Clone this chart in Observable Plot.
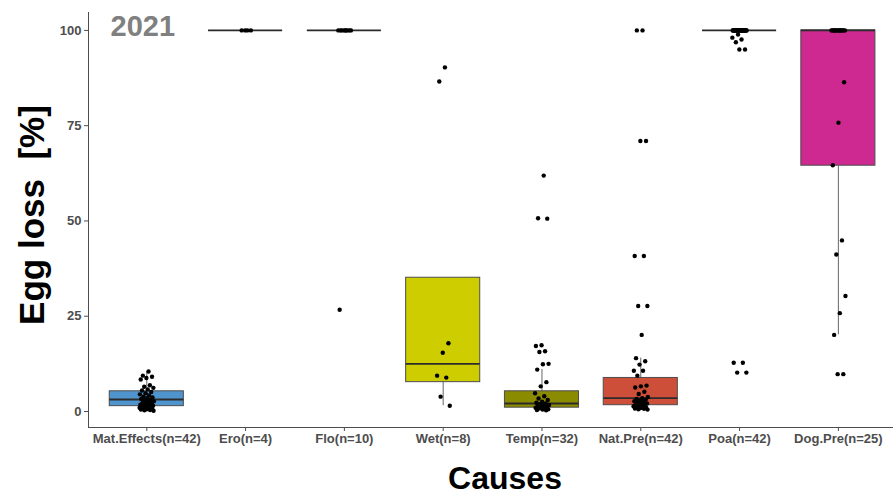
<!DOCTYPE html>
<html>
<head>
<meta charset="utf-8">
<script src="https://cdn.jsdelivr.net/npm/d3@7"></script>
<script src="https://cdn.jsdelivr.net/npm/@observablehq/plot@0.6"></script>
<style>
  body { margin: 0; background: #fff; }
  #chart svg { display: block; }
</style>
</head>
<body>
<div id="chart"></div>
<script>
// Causes of egg loss, 2021 season
const causes = ["Mat.Effects", "Ero", "Flo", "Wet", "Temp", "Nat.Pre", "Poa", "Dog.Pre"];
const counts = [42, 4, 10, 8, 32, 42, 42, 25];

// Egg loss per nest [%], by cause
const matEffects = [10.5, 9.4, 9.1, 8.8, 8.4, 6.9, 6.5, 6.2, 5.8, 5.5, 5.1, 4.8, 4.5, 4.2, 3.9, 3.7, 3.5, 3.3, 3.1, 2.9, 2.7,
  2.5, 2.3, 2.1, 2.0, 1.8, 1.7, 1.6, 1.5, 1.4, 1.3, 1.2, 1.1, 1.0, 0.9, 0.8, 0.7, 0.6, 0.5, 0.4, 0.3, 0.2];
const ero = [100, 100, 100, 100];
const flo = [100, 100, 100, 100, 100, 100, 100, 100, 100, 26.7];
const wet = [90.3, 86.6, 17.9, 15.4, 9.4, 8.9, 3.9, 1.5];
const temp = [61.9, 50.7, 50.6, 17.4, 17.2, 15.8, 15.6, 12.5, 12.4, 11.0, 7.7, 6.6, 4.8, 4.0, 3.4, 3.0,
  2.6, 2.3, 2.1, 1.9, 1.7, 1.5, 1.4, 1.2, 1.1, 1.0, 0.9, 0.8, 0.6, 0.5, 0.4, 0.3];
const natPre = [100, 100, 71.0, 71.0, 40.8, 40.8, 27.7, 27.7, 20.1, 14.0, 13.2, 12.3, 10.7, 10.7, 9.4, 6.8, 6.6, 6.3, 5.2, 4.6, 3.8,
  3.5, 3.3, 3.1, 2.9, 2.7, 2.5, 2.3, 2.1, 2.0, 1.8, 1.7, 1.5, 1.4, 1.2, 1.1, 1.0, 0.9, 0.8, 0.7, 0.6, 0.5];
const poa = [100, 100, 100, 100, 100, 100, 100, 100, 100, 100, 100, 100, 100, 100, 100, 100, 100, 100, 100, 100, 100,
  100, 100, 100, 100, 100, 100, 100, 100, 100, 100, 100, 98.9, 98.1, 97.6, 96.9, 95.0, 95.0, 12.8, 12.8, 10.2, 10.2];
const dogPre = [100, 100, 100, 100, 100, 100, 100, 100, 100, 100, 100, 100, 100, 100, 100,
  86.4, 75.8, 64.6, 44.9, 41.2, 30.3, 25.8, 20.1, 9.8, 9.8];

// Box-plot summaries per cause
const whiskerLow  = [0.2, 100, 100, 1.5, 0.3, 0.5, 100, 20.1];
const boxQ1       = [1.4, 100, 100, 7.7, 1.0, 1.65, 100, 64.5];
const boxMedian   = [3.15, 100, 100, 12.5, 2.1, 3.5, 100, 100];
const boxQ3       = [5.3, 100, 100, 35.1, 5.3, 8.8, 100, 100];
const whiskerHigh = [10.5, 100, 100, 35.1, 11.0, 14.0, 100, 100];

const yearLabel = "2021";

// Fill colours for each cause
const palette = ["#4F94CD", "#9E9E9E", "#9E9E9E", "#CDCD00", "#8B8B00", "#CD4F39", "#9E9E9E", "#CD2990"];

const series = [matEffects, ero, flo, wet, temp, natPre, poa, dogPre];
const tickLabels = causes.map((c, i) => `${c}(n=${counts[i]})`);

const stats = causes.map((cause, i) => ({
  cause, pos: i + 1,
  low: whiskerLow[i], q1: boxQ1[i], median: boxMedian[i], q3: boxQ3[i], high: whiskerHigh[i]
}));

// small deterministic horizontal jitter so overlapping eggs stay visible
const jitterWidth = 0.075;
const points = series.flatMap((values, i) =>
  values.map((value, j) => ({
    cause: causes[i],
    pos: i + 1,
    jit: ((((j + 1) * 0.6180339887) % 1) - 0.5) * 2 * jitterWidth,
    value
  }))
);

const half = 0.375;

const chart = Plot.plot({
  width: 893,
  height: 494,
  marginLeft: 88,
  marginRight: 0,
  marginTop: 12,
  marginBottom: 67,
  style: {
    fontFamily: "'Liberation Sans', Arial, sans-serif",
    fontSize: "13px",
    fontWeight: "bold",
    color: "#4d4d4d",
    background: "#fff"
  },
  x: {
    domain: [0.41, 8.558],
    ticks: d3.range(1, causes.length + 1),
    tickFormat: (d) => tickLabels[d - 1],
    tickSize: 4,
    tickPadding: 2,
    line: true,
    label: null
  },
  y: {
    domain: [-4.2, 104.7],
    ticks: [0, 25, 50, 75, 100],
    tickSize: 4,
    tickPadding: 3,
    line: true,
    label: null
  },
  color: { domain: causes, range: palette },
  marks: [
    // whiskers
    Plot.ruleX(stats, { x: "pos", y1: "low", y2: "q1", stroke: "#666", strokeWidth: 1 }),
    Plot.ruleX(stats, { x: "pos", y1: "q3", y2: "high", stroke: "#666", strokeWidth: 1 }),
    // boxes
    Plot.rect(stats, {
      x1: (d) => d.pos - half, x2: (d) => d.pos + half,
      y1: "q1", y2: "q3",
      fill: "cause", stroke: "#4d4d4d", strokeWidth: 1, inset: 0
    }),
    // medians
    Plot.ruleY(stats, {
      y: "median", x1: (d) => d.pos - half, x2: (d) => d.pos + half,
      stroke: "#2b2b2b", strokeWidth: 1.8
    }),
    // individual nests
    Plot.dot(points, { x: (d) => d.pos + d.jit, y: "value", r: 2.2, fill: "black", stroke: null }),
    // year tag
    Plot.text([yearLabel], {
      frameAnchor: "top-left", textAnchor: "start", lineAnchor: "top",
      dx: 22, dy: 3, fontSize: 29, fontWeight: "bold", fill: "#808080"
    }),
    // axis titles
    Plot.text(["Causes"], {
      frameAnchor: "bottom", dx: 14, dy: 61,
      fontSize: 32, fontWeight: "bold", fill: "#000"
    }),
    Plot.text(["Egg loss  [%]"], {
      frameAnchor: "left", textAnchor: "middle", rotate: -90, dx: -56, dy: -5,
      fontSize: 35, fontWeight: "bold", fill: "#000"
    })
  ]
});

document.getElementById("chart").appendChild(chart);
</script>
</body>
</html>
